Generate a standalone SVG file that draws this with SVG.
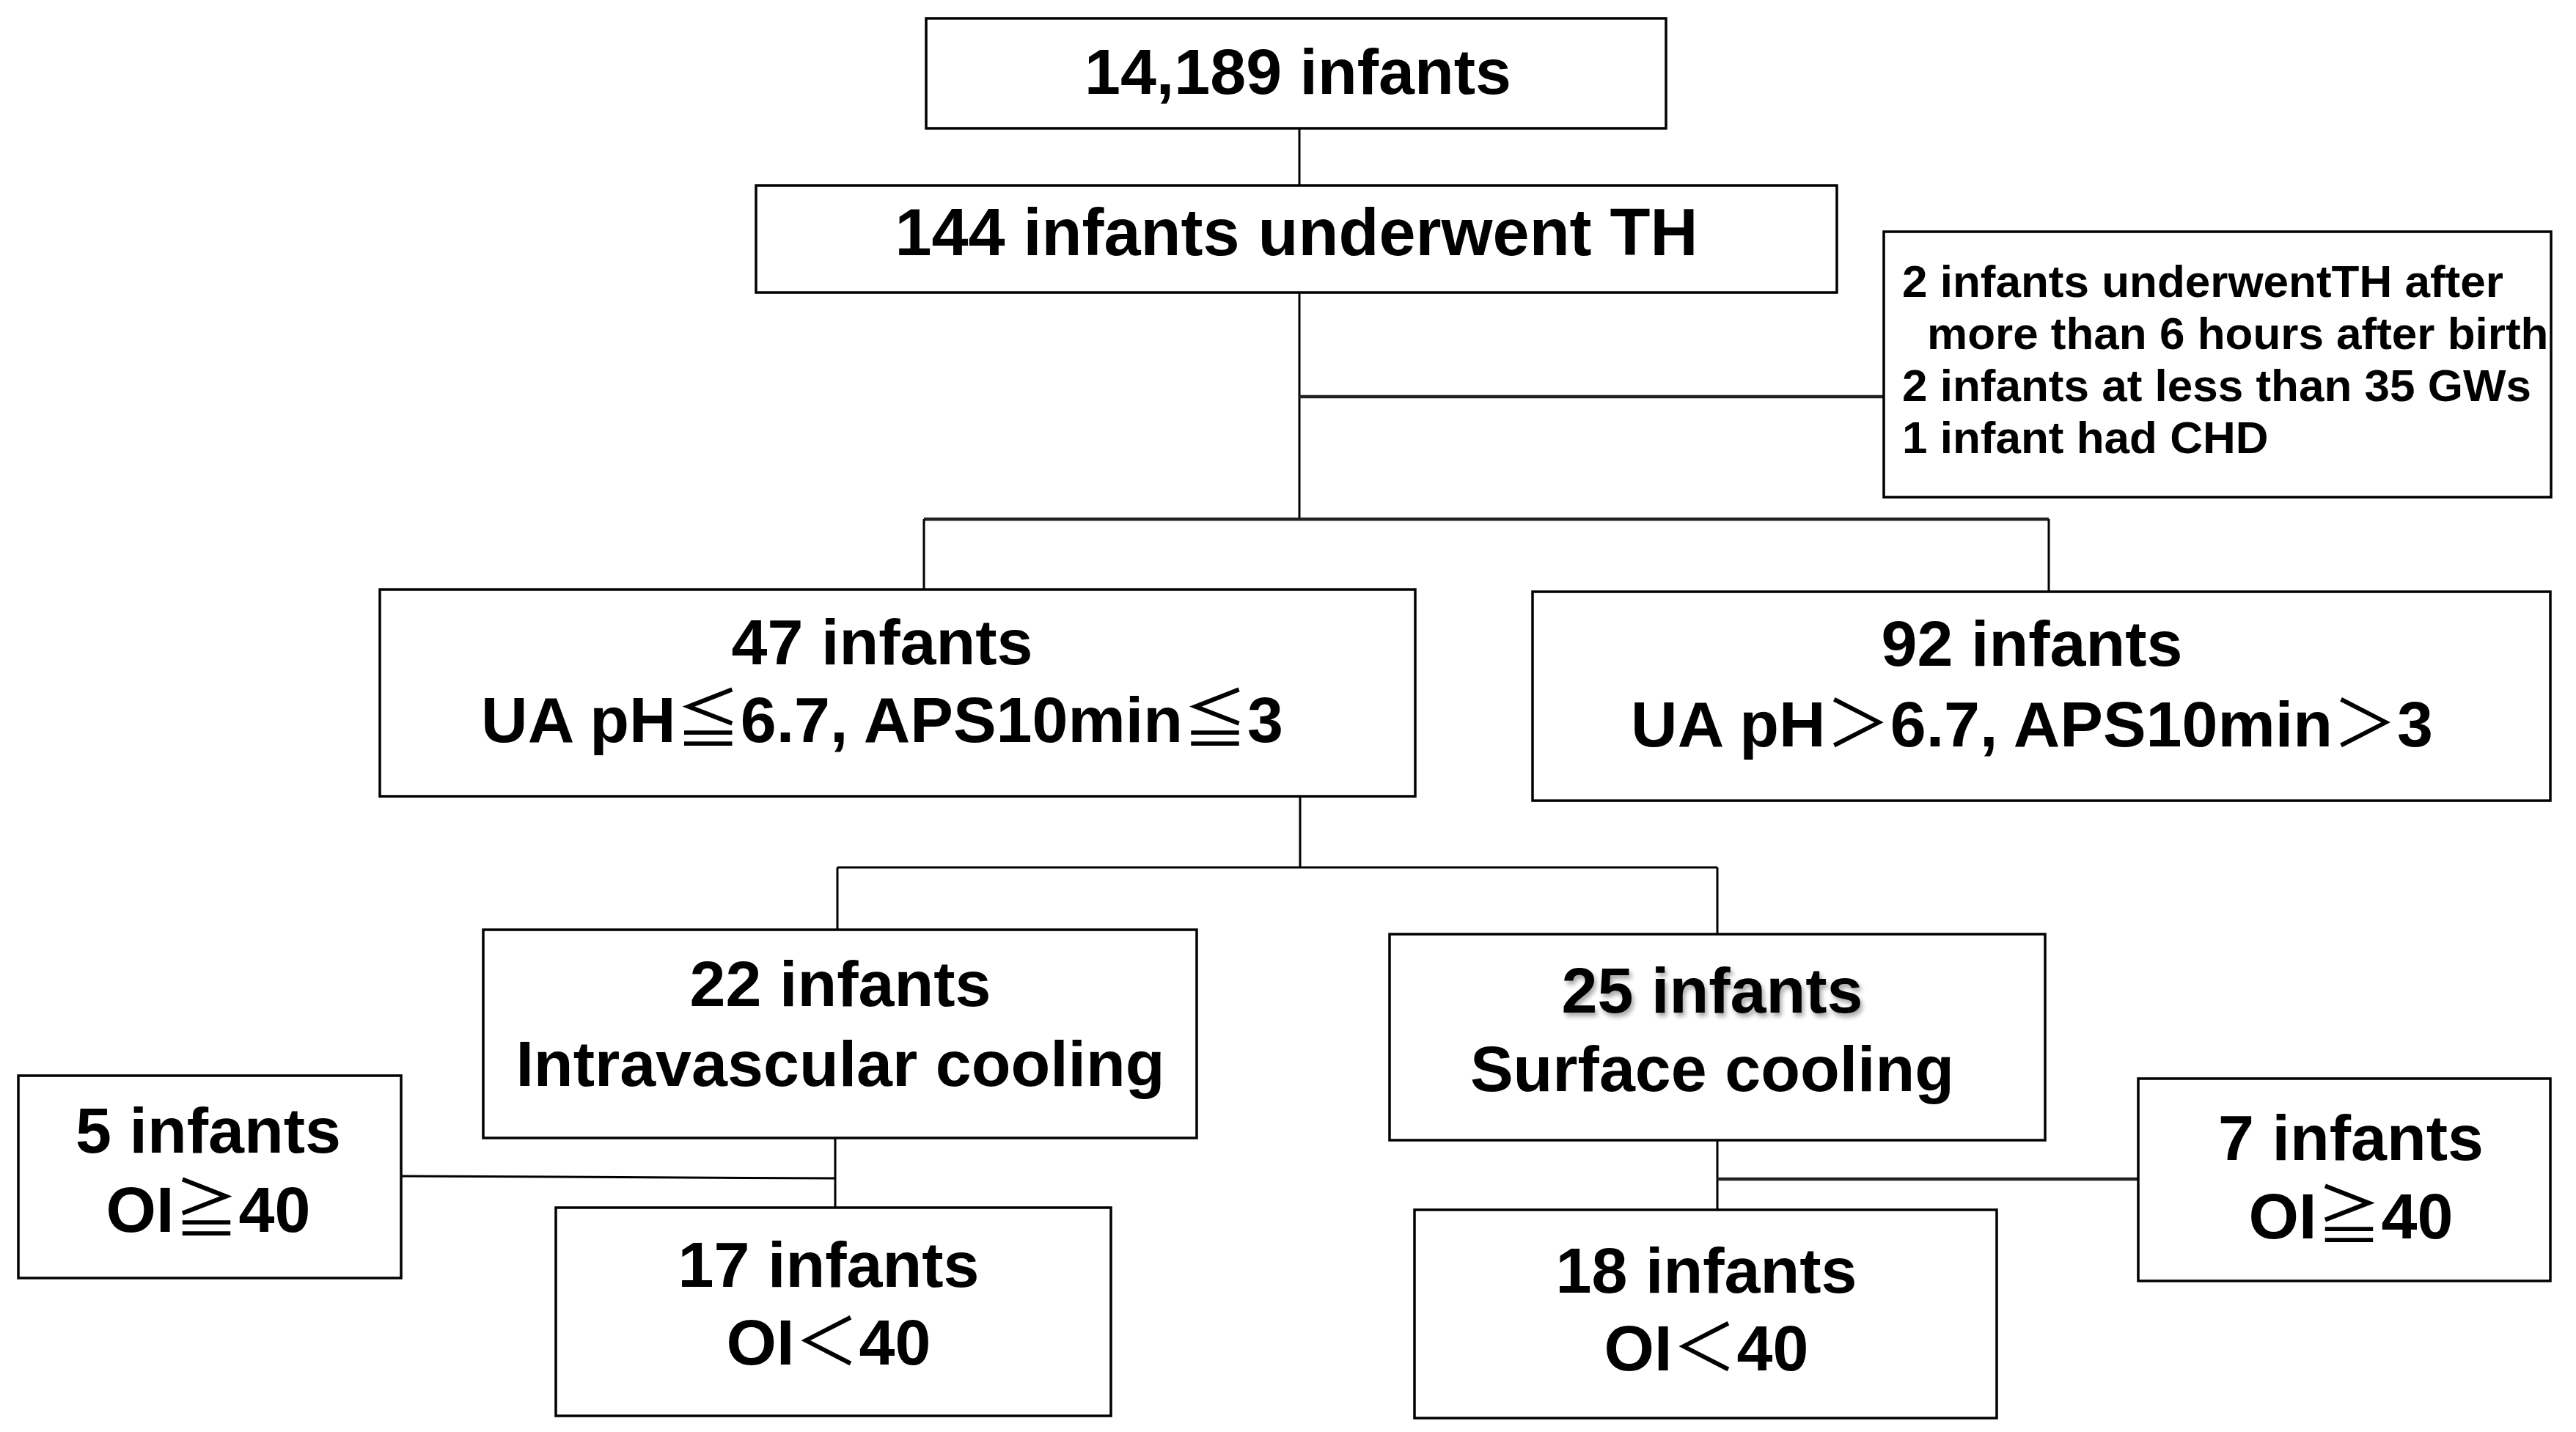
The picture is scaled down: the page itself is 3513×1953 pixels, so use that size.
<svg xmlns="http://www.w3.org/2000/svg" width="3513" height="1953" viewBox="0 0 3513 1953">
<style>
.box{fill:#fff;stroke:#000;stroke-width:3.5}
.t{font-family:"Liberation Sans","Noto Sans CJK JP",sans-serif;font-weight:bold;font-size:88px;fill:#000;text-anchor:middle}
.s{font-family:"Liberation Sans","Noto Sans CJK JP",sans-serif;font-weight:bold;font-size:62px;fill:#000}
.sym{font-weight:normal}
.c{fill:none;stroke:#000;stroke-width:3}
.ct{fill:none;stroke:#222;stroke-width:4.5}
</style>
<defs>
<filter id="sh" x="-10%" y="-20%" width="130%" height="150%">
<feGaussianBlur in="SourceAlpha" stdDeviation="3"/>
<feOffset dx="3" dy="5" result="b"/>
<feComponentTransfer><feFuncA type="linear" slope="0.35"/></feComponentTransfer>
<feMerge><feMergeNode/><feMergeNode in="SourceGraphic"/></feMerge>
</filter>
</defs>
<rect width="3513" height="1953" fill="#fff"/>
<g id="connectors">
<path class="c" d="M1772 175 V253"/>
<path class="c" d="M1772 399 V708"/>
<path class="ct" d="M1772 541 H2569"/>
<path class="ct" d="M1260 708 H2794"/>
<path class="c" d="M1260 708 V804"/>
<path class="c" d="M2794 708 V807"/>
<path class="c" d="M1773 1086 V1183"/>
<path class="c" d="M1142 1183 H2342"/>
<path class="c" d="M1142 1183 V1268"/>
<path class="c" d="M2342 1183 V1274"/>
<path class="c" d="M1139 1552 V1647"/>
<path class="c" d="M547 1604 L1139 1607"/>
<path class="c" d="M2342 1555 V1650"/>
<path class="ct" d="M2342 1608 H2916"/>
</g>
<g id="n-total">
<rect class="box" x="1263" y="25" width="1009" height="150"/>
<text class="t" x="1770" y="128">14,189 infants</text>
</g>
<g id="n-th">
<rect class="box" x="1031" y="253" width="1474" height="146"/>
<text class="t" x="1768" y="348" style="font-size:90px">144 infants underwent TH</text>
</g>
<g id="n-excluded">
<rect class="box" x="2569" y="316" width="910" height="362"/>
<text class="s" x="2594" y="405">2 infants underwentTH after</text>
<text class="s" x="2628" y="476">more than 6 hours after birth</text>
<text class="s" x="2594" y="547">2 infants at less than 35 GWs</text>
<text class="s" x="2594" y="618">1 infant had CHD</text>
</g>
<g id="n-47">
<rect class="box" x="518" y="804" width="1412" height="282"/>
<text class="t" x="1203" y="906">47 infants</text>
<text class="t" x="1203" y="1012">UA pH<tspan class="sym">≦</tspan>6.7, APS10min<tspan class="sym">≦</tspan>3</text>
</g>
<g id="n-92">
<rect class="box" x="2090" y="807" width="1388" height="285"/>
<text class="t" x="2771" y="908">92 infants</text>
<text class="t" x="2771" y="1018">UA pH<tspan class="sym">＞</tspan>6.7, APS10min<tspan class="sym">＞</tspan>3</text>
</g>
<g id="n-22">
<rect class="box" x="659" y="1268" width="973" height="284"/>
<text class="t" x="1146" y="1372">22 infants</text>
<text class="t" x="1146" y="1481">Intravascular cooling</text>
</g>
<g id="n-25">
<rect class="box" x="1895" y="1274" width="894" height="281"/>
<text class="t" x="2335" y="1381" filter="url(#sh)">25 infants</text>
<text class="t" x="2335" y="1488">Surface cooling</text>
</g>
<g id="n-5">
<rect class="box" x="25" y="1467" width="522" height="276"/>
<text class="t" x="284" y="1572">5 infants</text>
<text class="t" x="284" y="1680">OI<tspan class="sym">≧</tspan>40</text>
</g>
<g id="n-7">
<rect class="box" x="2916" y="1471" width="562" height="276"/>
<text class="t" x="3206" y="1582">7 infants</text>
<text class="t" x="3206" y="1689">OI<tspan class="sym">≧</tspan>40</text>
</g>
<g id="n-17">
<rect class="box" x="758" y="1647" width="757" height="284"/>
<text class="t" x="1130" y="1755">17 infants</text>
<text class="t" x="1130" y="1861">OI<tspan class="sym">＜</tspan>40</text>
</g>
<g id="n-18">
<rect class="box" x="1929" y="1650" width="794" height="284"/>
<text class="t" x="2327" y="1763">18 infants</text>
<text class="t" x="2327" y="1869">OI<tspan class="sym">＜</tspan>40</text>
</g>
</svg>
